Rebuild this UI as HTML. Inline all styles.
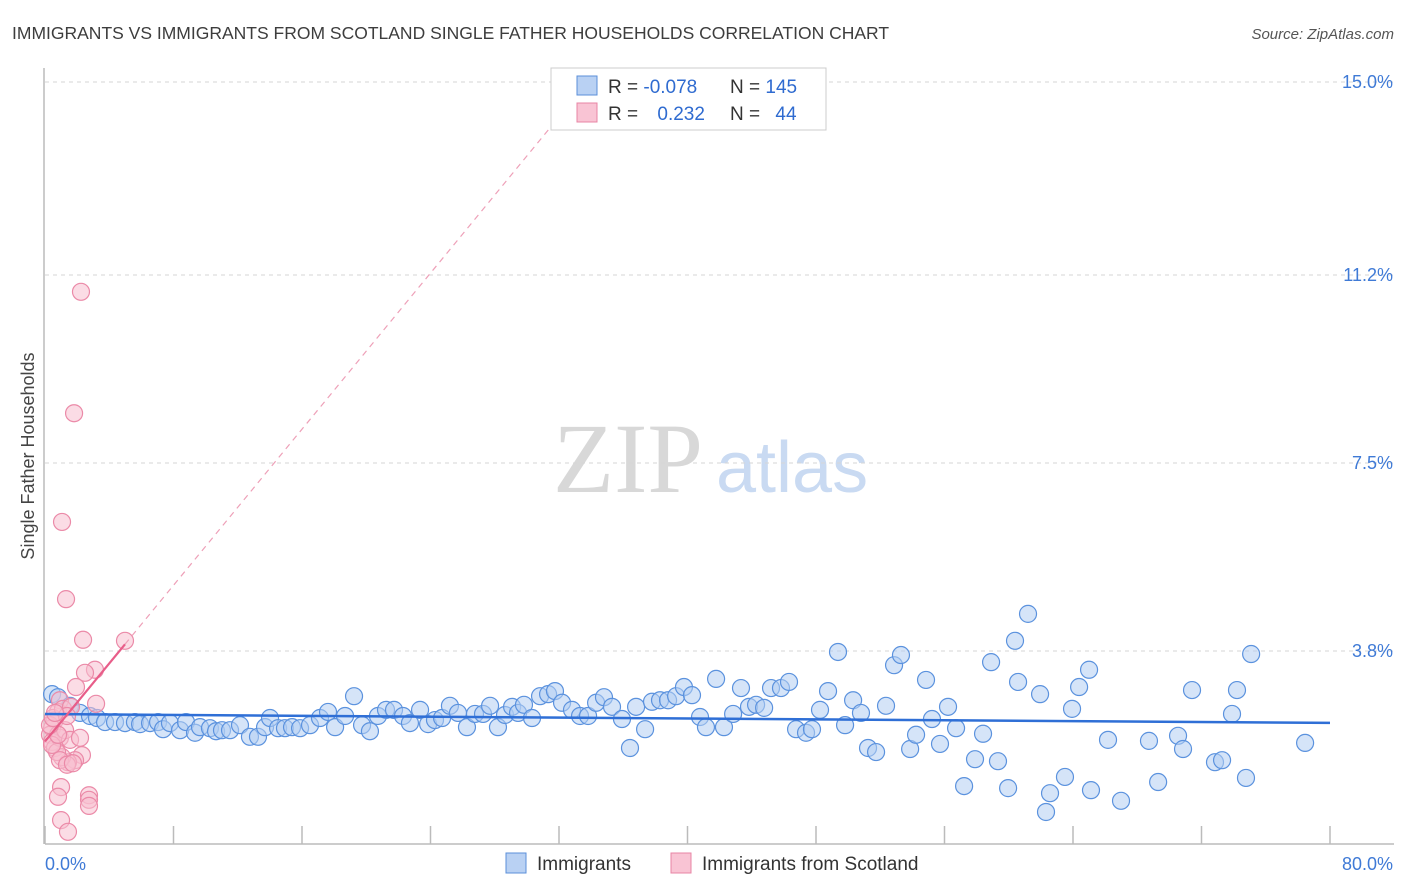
<!DOCTYPE html>
<html><head><meta charset="utf-8"><style>
body{margin:0;background:#fff;font-family:"Liberation Sans",sans-serif;}
svg{display:block}
</style></head><body>
<svg id="chart" width="1406" height="892" xmlns="http://www.w3.org/2000/svg">
<text x="12" y="39" font-size="17.5" fill="#3d3d3d">IMMIGRANTS VS IMMIGRANTS FROM SCOTLAND SINGLE FATHER HOUSEHOLDS CORRELATION CHART</text>
<text x="1394" y="39" font-size="15" fill="#555" font-style="italic" text-anchor="end">Source: ZipAtlas.com</text>
<text transform="translate(34,456) rotate(-90)" font-size="18" fill="#444" text-anchor="middle">Single Father Households</text>
<g>
<text x="553" y="492" font-family="Liberation Serif,serif" font-size="100" fill="#d8d8d8">ZIP</text>
<text x="716" y="492" font-size="72" fill="#c9daf2">atlas</text>
</g>
<g id="grid"></g>
<g id="axes"></g>
<g id="pts"></g>
<g id="trend"></g>
<g>
<rect x="551" y="68" width="275" height="62" fill="#fff" stroke="#ccc"/>
<rect x="577" y="76" width="20" height="19" fill="#b9d1f3" stroke="#5b8fd9"/>
<rect x="577" y="103" width="20" height="19" fill="#f9c4d4" stroke="#e884a4"/>
<text x="608" y="93" font-size="19" fill="#333">R = <tspan fill="#2f6bd0">-0.078</tspan></text>
<text x="730" y="93" font-size="19" fill="#333">N = <tspan fill="#2f6bd0">145</tspan></text>
<text x="608" y="120" font-size="19" fill="#333">R = <tspan fill="#2f6bd0" dx="14">0.232</tspan></text>
<text x="730" y="120" font-size="19" fill="#333">N = <tspan fill="#2f6bd0" dx="10">44</tspan></text>
</g>
<g>
<rect x="506" y="853" width="20" height="20" fill="#b9d1f3" stroke="#5b8fd9"/>
<text x="537" y="870" font-size="19" fill="#333">Immigrants</text>
<rect x="671" y="853" width="20" height="20" fill="#f9c4d4" stroke="#e884a4"/>
<text x="702" y="870" font-size="19" fill="#333">Immigrants from Scotland</text>
</g>
</svg>
<script>
const yTicks=[3.8,7.5,11.2,15.0];
const yTickLabels=["3.8%","7.5%","11.2%","15.0%"];
const xTickLabels=["0.0%","80.0%"];
const blueX=[0.44,0.81,1.56,2.18,2.80,3.24,3.74,4.36,4.98,5.60,5.92,6.54,7.04,7.35,7.78,8.41,8.78,9.34,9.65,10.27,10.65,11.02,11.52,12.14,12.76,13.26,13.70,14.01,14.51,14.94,15.38,15.88,16.50,17.12,17.62,18.06,18.68,19.24,19.74,20.23,20.73,21.23,21.73,22.29,22.72,23.35,23.85,24.28,24.72,25.21,25.71,26.27,26.77,27.27,27.71,28.20,28.64,29.08,29.45,29.82,30.32,30.82,31.32,31.75,32.19,32.81,33.31,33.81,34.31,34.80,35.30,35.92,36.42,36.80,37.36,37.79,38.29,38.79,39.29,39.78,40.28,40.78,41.15,41.78,42.27,42.84,43.33,43.83,44.27,44.77,45.20,45.82,46.32,46.76,47.38,47.75,48.25,48.75,49.37,49.81,50.31,50.80,51.24,51.74,52.36,52.86,53.29,53.86,54.23,54.85,55.22,55.72,56.22,56.72,57.22,57.90,58.40,58.90,59.33,59.96,60.39,60.58,61.20,61.95,62.32,62.57,63.50,63.94,64.38,65.00,65.12,66.18,66.99,68.73,69.30,70.54,70.85,71.41,72.84,73.28,73.90,74.21,74.77,75.09,78.45];
const blueY=[2.95,2.89,2.72,2.58,2.52,2.48,2.40,2.40,2.38,2.40,2.36,2.38,2.40,2.26,2.38,2.24,2.40,2.19,2.30,2.28,2.22,2.24,2.24,2.34,2.11,2.11,2.30,2.48,2.28,2.28,2.30,2.28,2.34,2.48,2.60,2.30,2.52,2.91,2.34,2.22,2.52,2.64,2.64,2.52,2.38,2.64,2.36,2.44,2.48,2.72,2.58,2.30,2.56,2.56,2.72,2.30,2.54,2.70,2.58,2.74,2.48,2.91,2.95,3.01,2.78,2.64,2.52,2.52,2.78,2.89,2.70,2.46,1.89,2.70,2.26,2.80,2.83,2.83,2.91,3.09,2.93,2.50,2.30,3.25,2.30,2.56,3.07,2.70,2.74,2.68,3.07,3.07,3.19,2.26,2.19,2.26,2.64,3.01,3.78,2.34,2.83,2.58,1.89,1.81,2.72,3.52,3.72,1.87,2.15,3.23,2.46,1.97,2.70,2.28,1.14,1.67,2.17,3.58,1.63,1.10,4.00,3.19,4.53,2.95,0.63,1.00,1.32,2.66,3.09,3.43,1.06,2.05,0.85,2.03,1.22,2.13,1.87,3.03,1.61,1.65,2.56,3.03,1.30,3.74,1.99];
const pinkX=[2.24,1.81,1.06,1.31,2.37,4.98,3.11,2.49,1.93,3.18,0.93,0.81,0.62,0.44,0.31,0.44,0.62,0.93,1.25,1.56,2.18,2.30,1.87,1.43,1.06,0.75,0.44,0.81,0.31,0.50,1.12,1.62,1.37,0.62,0.93,1.37,1.74,1.00,0.81,2.74,2.74,2.74,1.00,1.43];
const pinkY=[10.87,8.48,6.34,4.82,4.02,4.00,3.43,3.37,3.09,2.76,2.83,2.60,2.44,2.28,2.15,2.01,1.89,2.09,2.24,2.05,2.09,1.75,1.65,1.61,1.71,1.81,1.95,2.15,2.34,2.48,2.66,2.70,2.52,2.58,1.65,1.56,1.59,1.12,0.93,0.96,0.87,0.75,0.47,0.24];

const NS="http://www.w3.org/2000/svg";
const X0=45,X1=1330,Y0=844,YT=82;
const sx=v=>X0+v/80*(X1-X0);
const sy=v=>Y0-v/15*(Y0-YT);
function mk(tag,attrs,parent){const e=document.createElementNS(NS,tag);for(const k in attrs)e.setAttribute(k,attrs[k]);parent.appendChild(e);return e;}
const grid=document.getElementById('grid'),axes=document.getElementById('axes'),pts=document.getElementById('pts'),tr=document.getElementById('trend');
yTicks.forEach((t,i)=>{
 const l=mk('line',{x1:X0,x2:1394,y1:sy(t),y2:sy(t),stroke:'#d6d6d6','stroke-dasharray':'4,4'},grid);
 
 
 const tx=mk('text',{x:1393,y:sy(t)+6,'font-size':18,fill:'#3f7ad6','text-anchor':'end'},grid);
 tx.textContent=yTickLabels[i];
 
 
});
const ax=mk('line',{x1:X0,x2:1394,y1:Y0,y2:Y0,stroke:'#bbb','stroke-width':1.5},axes);


const ay=mk('line',{x1:44,x2:44,y1:68,y2:Y0,stroke:'#bbb','stroke-width':1.5},axes);


for(let i=0;i<=10;i++){
 const t=mk('line',{x1:sx(i*8),x2:sx(i*8),y1:826,y2:Y0,stroke:'#bbb','stroke-width':1.5},axes);
 
 
}
[[0,'start',45],[1,'end',1393]].forEach(([i,a,x])=>{
 const t=mk('text',{x:x,y:870,'font-size':18,fill:'#3f7ad6','text-anchor':a},axes);
 t.textContent=xTickLabels[i];
 
 
});
function dots(xs,ys,fill,stroke,name){
 xs.forEach((x,i)=>{
  const c=mk('circle',{cx:sx(x),cy:sy(ys[i]),r:8.5,fill:fill,'fill-opacity':0.55,stroke:stroke,'stroke-width':1.2},pts);
  
  
 });
}
dots(blueX,blueY,'#b3cdf2','#5b92de','immigrants-point');
dots(pinkX,pinkY,'#f8bfd0','#eb8aa8','scotland-point');
function reg(xs,ys){const n=xs.length;let mx=0,my=0;for(let i=0;i<n;i++){mx+=xs[i];my+=ys[i];}mx/=n;my/=n;let sxy=0,sxx=0;for(let i=0;i<n;i++){sxy+=(xs[i]-mx)*(ys[i]-my);sxx+=(xs[i]-mx)**2;}const b=sxy/sxx;return [my-b*mx,b];}
const [ba,bb]=reg(blueX,blueY);
const bl=mk('line',{x1:sx(0),y1:sy(ba),x2:sx(80),y2:sy(ba+bb*80),stroke:'#2f6fd6','stroke-width':2.5},tr);


const [pa,pb]=reg(pinkX,pinkY);
const pmax=Math.max(...pinkX);
const pl=mk('line',{x1:sx(0),y1:sy(pa),x2:sx(pmax),y2:sy(pa+pb*pmax),stroke:'#e85d89','stroke-width':2.2},tr);


const xTop=pb>0?(15-pa)/pb:80;
const pd=mk('line',{x1:sx(pmax),y1:sy(pa+pb*pmax),x2:sx(Math.min(xTop,80)),y2:sy(pa+pb*Math.min(xTop,80)),stroke:'#eea0b8','stroke-width':1.2,'stroke-dasharray':'6,5'},tr);


</script>
</body></html>
